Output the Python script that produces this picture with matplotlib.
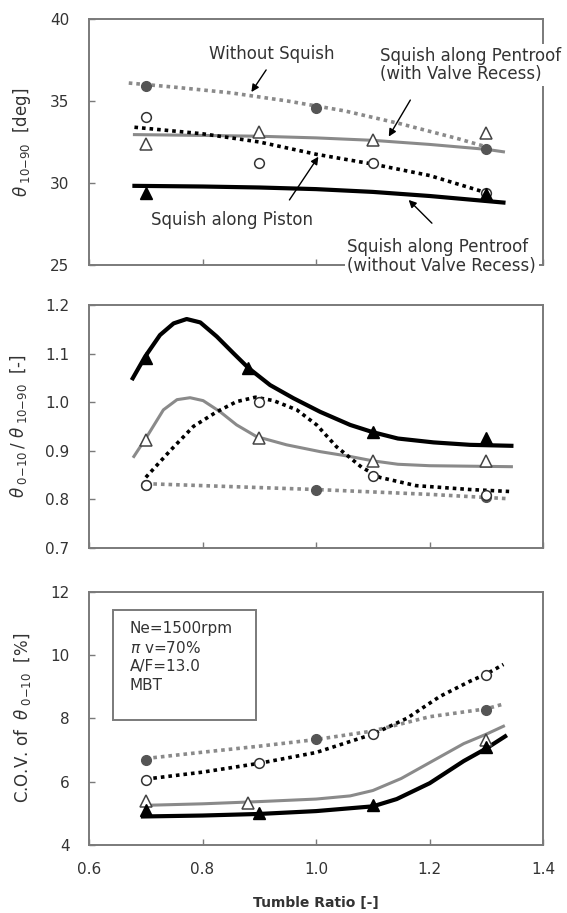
import matplotlib
matplotlib.use("Agg")
import matplotlib.pyplot as plt
from matplotlib.patches import Rectangle

plt.rcParams['font.family'] = ['DejaVu Sans']
plt.rcParams['mathtext.fontset'] = 'dejavusans'

GRAY = '#8a8a8a'
DGRAY = '#555555'
SPINE = '#7a7a7a'
TXT = '#333333'

# ---- measured points (markers) ----
# top: theta 10-90 [deg]
top_ws_x = [0.7, 1.0, 1.3]              # without squish
top_ws_y = [35.9, 34.55, 32.1]
top_wr_x = [0.7, 0.9, 1.1, 1.3]         # pentroof, with valve recess
top_wr_y = [32.4, 33.1, 32.6, 33.07]
top_nr_x = [0.7, 0.9, 1.1, 1.3]         # pentroof, without valve recess
top_nr_y = [34.0, 31.2, 31.2, 29.4]
top_pi_x = [0.7, 1.3]                   # squish along piston
top_pi_y = [29.4, 29.3]

# middle: theta 0-10 / theta 10-90
mid_ws_x = [0.7, 1.0, 1.3]
mid_ws_y = [0.830, 0.819, 0.805]
mid_wr_x = [0.7, 0.9, 1.1, 1.3]
mid_wr_y = [0.922, 0.926, 0.878, 0.878]
mid_nr_x = [0.7, 0.9, 1.1, 1.3]
mid_nr_y = [0.830, 1.001, 0.847, 0.809]
mid_pi_x = [0.7, 0.88, 1.1, 1.3]
mid_pi_y = [1.091, 1.070, 0.939, 0.926]

# bottom: C.O.V. of theta 0-10 [%]
bot_ws_x = [0.7, 1.0, 1.3]
bot_ws_y = [6.67, 7.34, 8.25]
bot_wr_x = [0.7, 0.88, 1.3]
bot_wr_y = [5.40, 5.32, 7.32]
bot_nr_x = [0.7, 0.9, 1.1, 1.3]
bot_nr_y = [6.06, 6.60, 7.50, 9.38]
bot_pi_x = [0.7, 0.9, 1.1, 1.3]
bot_pi_y = [5.10, 5.00, 5.27, 7.10]

# ---- smoothed trend curves ----
top_ws_cx = [0.67, 0.75, 0.85, 0.95, 1.05, 1.15, 1.25, 1.31]
top_ws_cy = [36.1, 35.85, 35.5, 35.0, 34.4, 33.6, 32.7, 32.1]
top_wr_cx = [0.68, 0.8, 0.9, 1.0, 1.1, 1.2, 1.3, 1.33]
top_wr_cy = [32.95, 32.9, 32.85, 32.75, 32.6, 32.35, 32.05, 31.9]
top_nr_cx = [0.68, 0.8, 0.9, 1.0, 1.1, 1.2, 1.3]
top_nr_cy = [33.4, 33.0, 32.5, 31.75, 31.15, 30.45, 29.4]
top_pi_cx = [0.68, 0.8, 0.9, 1.0, 1.1, 1.2, 1.33]
top_pi_cy = [29.82, 29.78, 29.72, 29.62, 29.45, 29.2, 28.8]

mid_pi_cx = [0.677, 0.699, 0.725, 0.749, 0.772, 0.796, 0.825, 0.854, 0.881,
             0.919, 0.960, 1.007, 1.060, 1.1, 1.144, 1.207, 1.271, 1.344]
mid_pi_cy = [1.049, 1.094, 1.138, 1.162, 1.171, 1.164, 1.135, 1.101, 1.070,
             1.035, 1.008, 0.980, 0.953, 0.938, 0.925, 0.917, 0.912, 0.910]
mid_wr_cx = [0.679, 0.702, 0.731, 0.755, 0.778, 0.801, 0.831, 0.860, 0.895,
             0.948, 1.007, 1.060, 1.1, 1.144, 1.2, 1.344]
mid_wr_cy = [0.888, 0.929, 0.984, 1.005, 1.009, 1.003, 0.980, 0.953, 0.929,
             0.912, 0.898, 0.888, 0.879, 0.872, 0.869, 0.867]
mid_nr_cx = [0.70, 0.743, 0.784, 0.825, 0.860, 0.893, 0.925, 0.966, 1.001,
             1.036, 1.054, 1.08, 1.112, 1.176, 1.271, 1.34]
mid_nr_cy = [0.845, 0.90, 0.950, 0.980, 1.001, 1.010, 1.003, 0.984, 0.953,
             0.908, 0.891, 0.866, 0.845, 0.828, 0.82, 0.816]
mid_ws_cx = [0.70, 1.0, 1.2, 1.34]
mid_ws_cy = [0.832, 0.82, 0.81, 0.801]

bot_ws_cx = [0.7, 0.8, 0.9, 1.0, 1.1, 1.2, 1.3, 1.33]
bot_ws_cy = [6.73, 6.93, 7.12, 7.33, 7.6, 8.05, 8.3, 8.45]
bot_nr_cx = [0.7, 0.8, 0.9, 1.0, 1.1, 1.16, 1.218, 1.271, 1.3, 1.33]
bot_nr_cy = [6.08, 6.3, 6.58, 6.92, 7.5, 8.0, 8.69, 9.17, 9.4, 9.7]
bot_wr_cx = [0.695, 0.8, 0.9, 1.0, 1.06, 1.1, 1.15, 1.2, 1.26, 1.3, 1.33]
bot_wr_cy = [5.25, 5.3, 5.37, 5.45, 5.55, 5.72, 6.1, 6.6, 7.2, 7.5, 7.75]
bot_pi_cx = [0.695, 0.8, 0.9, 1.0, 1.1, 1.142, 1.2, 1.26, 1.3, 1.333]
bot_pi_cy = [4.9, 4.93, 4.98, 5.07, 5.22, 5.45, 5.95, 6.65, 7.05, 7.43]

xticks = [0.6, 0.8, 1.0, 1.2, 1.4]

fig = plt.figure(figsize=(5.67, 9.13), dpi=100)
ax1 = fig.add_axes([0.157, 0.710, 0.801, 0.269])
ax2 = fig.add_axes([0.157, 0.400, 0.801, 0.266])
ax3 = fig.add_axes([0.157, 0.0745, 0.801, 0.2775])


def draw_panel(ax, c_ws, c_wr, c_nr, c_pi, m_ws, m_wr, m_nr, m_pi):
    ax.plot(*c_ws, color=GRAY, lw=2.6, ls=(0, (1, 1.1)), zorder=2)
    ax.plot(*c_wr, color=GRAY, lw=2.2, zorder=2)
    ax.plot(*c_nr, color='k', lw=2.6, ls=(0, (1, 1.1)), zorder=2)
    ax.plot(*c_pi, color='k', lw=3.0, zorder=2)
    ax.plot(*m_ws, ls='none', marker='o', ms=7, color=DGRAY, zorder=4)
    ax.plot(*m_wr, ls='none', marker='^', ms=8, mfc='white', mec='#444444',
            mew=1.1, zorder=4)
    ax.plot(*m_nr, ls='none', marker='o', ms=7, mfc='white', mec='#333333',
            mew=1.1, zorder=4)
    ax.plot(*m_pi, ls='none', marker='^', ms=8, color='k', zorder=4)


def style(ax, ylim, yticks, ylabels, show_x):
    ax.set_xlim(0.6, 1.4)
    ax.set_ylim(*ylim)
    ax.set_xticks(xticks)
    ax.set_yticks(yticks)
    ax.set_yticklabels(ylabels)
    if show_x:
        ax.set_xticklabels([f'{t:.1f}' for t in xticks])
    else:
        ax.set_xticklabels([])
    ax.tick_params(direction='in', length=4, width=1, color=SPINE,
                   labelsize=11, labelcolor=TXT)
    ax.tick_params(axis='y', pad=14)
    ax.tick_params(axis='x', pad=12)
    for s in ax.spines.values():
        s.set_color(SPINE)
        s.set_linewidth(1.4)


draw_panel(ax1, (top_ws_cx, top_ws_cy), (top_wr_cx, top_wr_cy),
           (top_nr_cx, top_nr_cy), (top_pi_cx, top_pi_cy),
           (top_ws_x, top_ws_y), (top_wr_x, top_wr_y),
           (top_nr_x, top_nr_y), (top_pi_x, top_pi_y))
style(ax1, (25, 40), [25, 30, 35, 40], ['25', '30', '35', '40'], False)
ax1.set_ylabel(r'$\theta_{\ 10\mathrm{-}90}$  [deg]', fontsize=12, color=TXT)
ax1.yaxis.set_label_coords(-0.123, 0.5)

draw_panel(ax2, (mid_ws_cx, mid_ws_cy), (mid_wr_cx, mid_wr_cy),
           (mid_nr_cx, mid_nr_cy), (mid_pi_cx, mid_pi_cy),
           (mid_ws_x, mid_ws_y), (mid_wr_x, mid_wr_y),
           (mid_nr_x, mid_nr_y), (mid_pi_x, mid_pi_y))
yt2 = [0.7, 0.8, 0.9, 1.0, 1.1, 1.2]
style(ax2, (0.7, 1.2), yt2, [f'{v:.1f}' for v in yt2], False)
ax2.set_ylabel(r'$\theta_{\ 0\mathrm{-}10}\,/\ \theta_{\ 10\mathrm{-}90}$  [-]',
               fontsize=12, color=TXT)
ax2.yaxis.set_label_coords(-0.132, 0.5)

draw_panel(ax3, (bot_ws_cx, bot_ws_cy), (bot_wr_cx, bot_wr_cy),
           (bot_nr_cx, bot_nr_cy), (bot_pi_cx, bot_pi_cy),
           (bot_ws_x, bot_ws_y), (bot_wr_x, bot_wr_y),
           (bot_nr_x, bot_nr_y), (bot_pi_x, bot_pi_y))
style(ax3, (4, 12), [4, 6, 8, 10, 12], ['4', '6', '8', '10', '12'], True)
ax3.set_ylabel(r'C.O.V. of  $\theta_{\ 0\mathrm{-}10}$  [%]', fontsize=12,
               color=TXT)
ax3.yaxis.set_label_coords(-0.123, 0.5)
ax3.set_xlabel('Tumble Ratio [-]', fontsize=10, color=TXT, fontweight='bold')
ax3.xaxis.set_label_coords(0.5, -0.2)

# condition box
ax3.add_patch(Rectangle((0.052, 0.494), 0.316, 0.435, transform=ax3.transAxes,
                        fc='white', ec=SPINE, lw=1.4, zorder=5))
ax3.text(0.09, 0.885, 'Ne=1500rpm\n$\\pi$ v=70%\nA/F=13.0\nMBT',
         transform=ax3.transAxes, fontsize=11, color=TXT, va='top',
         ha='left', linespacing=1.3, zorder=6)

# labels with arrows in the top panel
arrow = dict(arrowstyle='-|>', color='k', lw=1.0, mutation_scale=11,
             shrinkA=0, shrinkB=0)
white = dict(boxstyle='square,pad=0.15', fc='white', ec='none')

ax1.annotate('', xy=(0.886, 35.55), xytext=(0.912, 36.9), arrowprops=arrow)
ax1.text(0.921, 37.9, 'Without Squish', ha='center', va='center',
         fontsize=12, color=TXT)

ax1.annotate('', xy=(1.128, 32.83), xytext=(1.166, 35.06), arrowprops=arrow)
ax1.text(1.113, 37.2, 'Squish along Pentroof\n(with Valve Recess)',
         ha='left', va='center', fontsize=12, color=TXT, linespacing=1.05,
         bbox=white, zorder=5, clip_on=False)

ax1.annotate('', xy=(1.004, 31.6), xytext=(0.953, 28.96), arrowprops=arrow)
ax1.text(0.851, 27.74, 'Squish along Piston', ha='center', va='center',
         fontsize=12, color=TXT)

ax1.annotate('', xy=(1.163, 28.96), xytext=(1.204, 27.54), arrowprops=arrow)
ax1.text(1.055, 25.5, 'Squish along Pentroof\n(without Valve Recess)',
         ha='left', va='center', fontsize=12, color=TXT, linespacing=1.05,
         bbox=white, zorder=5, clip_on=False)

fig.savefig('out.png', dpi=100)
